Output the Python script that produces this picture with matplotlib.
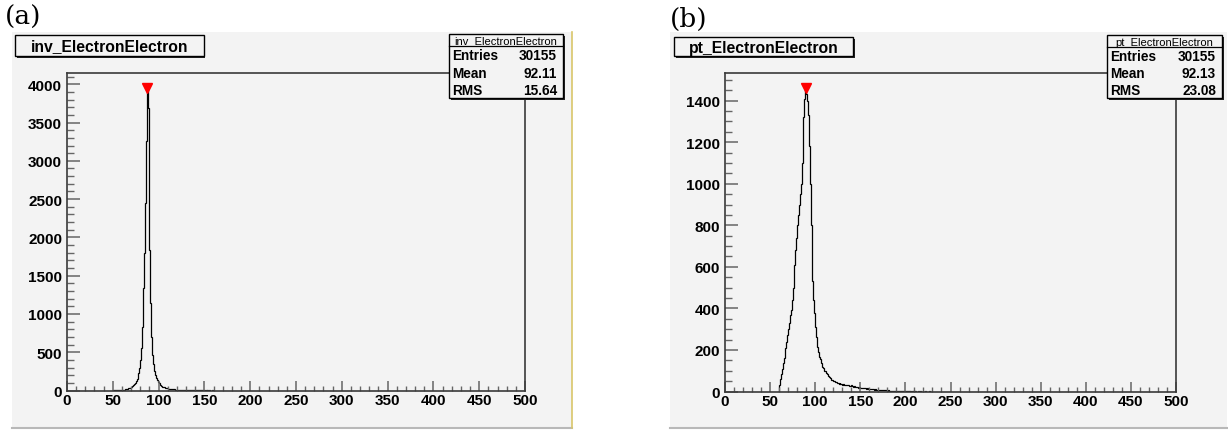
import numpy as np
import matplotlib
matplotlib.use("Agg")
import matplotlib.pyplot as plt
from matplotlib.patches import Rectangle
from matplotlib.ticker import MultipleLocator

# ---- data (1 GeV bins, counts) ----
inv_start = 50
inv_counts = [
    1, 1, 2, 2, 3, 3, 4, 5, 6, 7,                      # 50-59
    8, 10, 12, 14, 16, 19, 23, 27, 32, 38,             # 60-69
    46, 55, 66, 80, 96, 118, 145, 180, 230, 300,       # 70-79
    400, 560, 830, 1340, 1790, 2450, 3260, 3950, 3690, 2800,  # 80-89
    1830, 1140, 700, 470, 340, 260, 205, 165, 135, 112,       # 90-99
    94, 80, 68, 59, 51, 45, 40, 35, 31, 28,            # 100-109
    25, 23, 21, 19, 18, 16, 15, 14, 13, 12,            # 110-119
    11, 10, 9, 9, 8, 8, 7, 7, 6, 6,                    # 120-129
    5, 5, 4, 5, 4, 3, 4, 3, 3, 3,                      # 130-139
    2, 3, 2, 2, 1, 2, 2, 1, 1, 1,                      # 140-149
    1, 0, 1, 1, 0, 1, 0, 0, 1, 0,                      # 150-159
]

pt_start = 58
pt_counts = [
    0, 0,                                              # 58-59
    30, 60, 85, 110, 135, 160, 185, 210, 240, 270,     # 60-69
    300, 330, 370, 390, 440, 500, 550, 610, 680, 740,  # 70-79
    800, 850, 900, 950, 1000, 1100, 1200, 1320, 1410, 1460,  # 80-89
    1430, 1400, 1330, 1180, 1000, 800, 640, 530, 440, 380,   # 90-99
    310, 262, 215, 192, 168, 158, 138, 131, 117, 112,  # 100-109
    101, 99, 88, 84, 75, 72, 66, 64, 57, 56,           # 110-119
    52, 50, 45, 47, 41, 40, 38, 39, 35, 34,            # 120-129
    33, 36, 31, 33, 30, 29, 31, 27, 28, 26,            # 130-139
    29, 25, 24, 26, 22, 23, 21, 22, 19, 20,            # 140-149
    18, 19, 17, 16, 17, 15, 14, 15, 13, 12,            # 150-159
    13, 12, 11, 12, 10, 9, 10, 9, 8, 9,                # 160-169
    7, 8, 7, 6, 7, 6, 5, 6, 5, 5,                      # 170-179
    4, 5, 4, 4, 3, 4, 3, 3, 4, 2,                      # 180-189
    3, 3, 2, 2, 3, 2, 2, 1, 2, 2,                      # 190-199
    1, 1, 2, 1, 1, 1, 0, 1, 1, 0,                      # 200-209
    1, 1, 0, 0, 1, 0, 1, 0, 0, 1,                      # 210-219
    0, 0, 1, 0, 0, 0, 1, 0, 0, 0,                      # 220-229
]

panels = [
    {"label": "(a)", "name": "inv_ElectronElectron", "start": inv_start, "counts": inv_counts,
     "entries": "30155", "mean": "92.11", "rms": "15.64", "ymajor": 500, "yminor": 100},
    {"label": "(b)", "name": "pt_ElectronElectron", "start": pt_start, "counts": pt_counts,
     "entries": "30155", "mean": "92.13", "rms": "23.08", "ymajor": 200, "yminor": 50},
]

W, H = 1228, 431
fig = plt.figure(figsize=(W / 100, H / 100), dpi=100)
fig.patch.set_facecolor("white")

BG = "#f3f3f3"
SANS = "Liberation Sans"


def fx(px):
    return px / W


def fy(py):
    return 1 - py / H


def frect(x0, y0, x1, y1, **kw):
    r = Rectangle((fx(x0), fy(y1)), fx(x1) - fx(x0), fy(y0) - fy(y1),
                  transform=fig.transFigure, **kw)
    fig.add_artist(r)
    return r


# pixel layout of each panel: canvas, frame, title box, stats box
layout = [
    {"canvas": (12, 33, 572, 429), "frame": (67, 74, 525, 391.5),
     "title": (15, 36, 204, 57), "stats": (449, 35, 563, 99), "labelxy": (5, 17)},
    {"canvas": (670, 33, 1227, 429), "frame": (725, 74, 1176, 392.5),
     "title": (674, 38, 853, 57), "stats": (1107, 36, 1222, 99), "labelxy": (670, 19)},
]

for p, lay in zip(panels, layout):
    cx0, cy0, cx1, cy1 = lay["canvas"]
    frect(cx0, cy0, cx1, cy1, facecolor=BG, edgecolor="none", zorder=-5)
    # bottom edge of the canvas
    fig.add_artist(plt.Line2D([fx(cx0), fx(cx1)], [fy(cy1), fy(cy1)],
                              transform=fig.transFigure, color="#b8b8b8", lw=1.5, zorder=-4))

    x0, y0, x1, y1 = lay["frame"]
    ax = fig.add_axes([fx(x0), fy(y1), fx(x1) - fx(x0), fy(y0) - fy(y1)])
    ax.set_facecolor(BG)

    counts = np.array(p["counts"])
    edges = np.arange(p["start"], p["start"] + len(counts) + 1)
    ax.stairs(counts, edges, color="black", lw=0.9)
    imax = int(np.argmax(counts))
    ax.plot((edges[imax] + edges[imax + 1]) / 2, counts[imax], "v", color="red", ms=6.5,
            mec="red", zorder=5)

    ax.set_xlim(0, 500)
    ax.set_ylim(0, 1.05 * counts.max())
    ax.xaxis.set_major_locator(MultipleLocator(50))
    ax.xaxis.set_minor_locator(MultipleLocator(10))
    ax.yaxis.set_major_locator(MultipleLocator(p["ymajor"]))
    ax.yaxis.set_minor_locator(MultipleLocator(p["yminor"]))
    ax.tick_params(axis="x", which="major", direction="in", length=7.2, width=1.1,
                   color="#666666", pad=1.5, top=False)
    ax.tick_params(axis="x", which="minor", direction="in", length=3.6, width=1.0,
                   color="#666666", top=False)
    ax.tick_params(axis="y", which="major", direction="in", length=9.7, width=1.1,
                   color="#666666", pad=3.5, right=False)
    ax.tick_params(axis="y", which="minor", direction="in", length=5.0, width=1.0,
                   color="#666666", right=False)
    for lab in ax.get_xticklabels() + ax.get_yticklabels():
        lab.set_family(SANS)
        lab.set_fontweight("bold")
        lab.set_fontsize(11)
    for s in ax.spines.values():
        s.set_color("#3a3a3a")
        s.set_linewidth(1.2)

    # title box
    tx0, ty0, tx1, ty1 = lay["title"]
    frect(tx0 + 1.5, ty0 + 1.5, tx1 + 1.5, ty1 + 1.5, facecolor="#222222", edgecolor="none", zorder=6)
    frect(tx0, ty0, tx1, ty1, facecolor=BG, edgecolor="black", lw=1.0, zorder=7)
    fig.text(fx((tx0 + tx1) / 2), fy((ty0 + ty1) / 2 + 0.5), p["name"], ha="center", va="center",
             family=SANS, fontweight="bold", fontsize=11.3, zorder=8)

    # stats box
    sx0, sy0, sx1, sy1 = lay["stats"]
    frect(sx0 + 1.5, sy0 + 1.5, sx1 + 1.5, sy1 + 1.5, facecolor="#222222", edgecolor="none", zorder=6)
    frect(sx0, sy0, sx1, sy1, facecolor=BG, edgecolor="black", lw=1.0, zorder=7)
    sep = sy0 + 12
    fig.add_artist(plt.Line2D([fx(sx0), fx(sx1)], [fy(sep), fy(sep)], transform=fig.transFigure,
                              color="black", lw=0.9, zorder=8))
    fig.text(fx((sx0 + sx1) / 2), fy((sy0 + sep) / 2 + 0.5), p["name"], ha="center", va="center",
             family=SANS, fontsize=8.0, zorder=8)
    rowh = (sy1 - sep) / 3
    rows = [("Entries", p["entries"]), ("Mean", p["mean"]), ("RMS", p["rms"])]
    for i, (k, v) in enumerate(rows):
        yc = sep + rowh * (i + 0.5) + 0.5
        fig.text(fx(sx0 + 3), fy(yc), k, ha="left", va="center", family=SANS,
                 fontweight="bold", fontsize=9.8, zorder=8)
        fig.text(fx(sx1 - 6), fy(yc), v, ha="right", va="center", family=SANS,
                 fontweight="bold", fontsize=9.8, zorder=8)

    lx, ly = lay["labelxy"]
    fig.text(fx(lx), fy(ly), p["label"], ha="left", va="center", family="DejaVu Serif",
             fontsize=19)

# thin yellow edge on the right of the first canvas
fig.add_artist(plt.Line2D([fx(572), fx(572)], [fy(33), fy(429)], transform=fig.transFigure,
                          color="#d9c66a", lw=1.2, zorder=-3))

fig.savefig("out.png", dpi=100)
